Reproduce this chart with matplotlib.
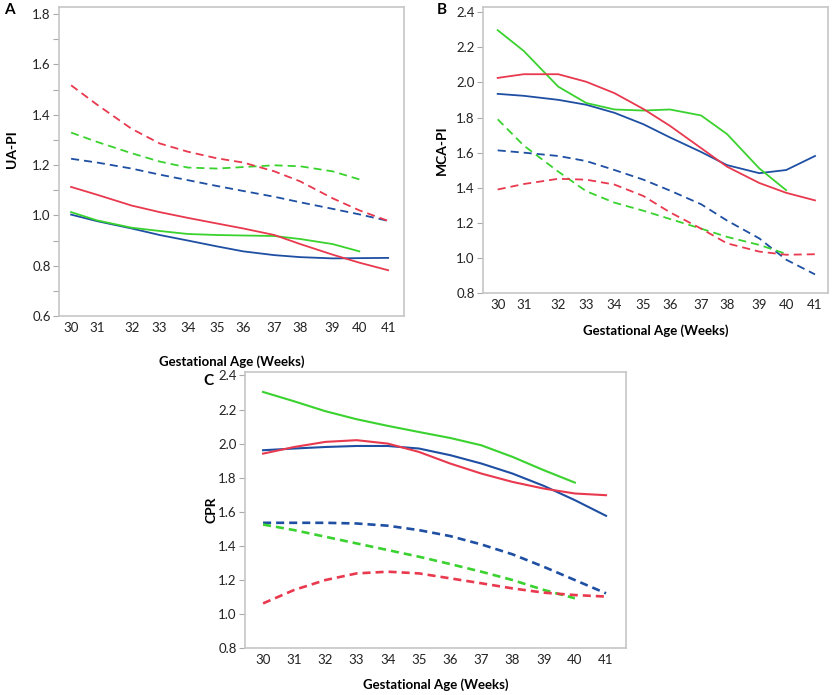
import matplotlib
matplotlib.use("Agg")
import matplotlib.pyplot as plt
from matplotlib.ticker import MultipleLocator

plt.rcParams['font.family'] = ['Lato', 'DejaVu Sans']
plt.rcParams['lines.scale_dashes'] = False

weeks = [30, 31, 32, 33, 34, 35, 36, 37, 38, 39, 40, 41]

# panel A - UA-PI
ua_red_solid = [1.113, 1.082, 1.039, 1.013, 0.99, 0.968, 0.948, 0.922, 0.886, 0.844, 0.812, 0.782]
ua_green_solid = [1.013, 0.98, 0.951, 0.938, 0.926, 0.922, 0.92, 0.918, 0.906, 0.886, 0.857]
ua_blue_solid = [1.003, 0.977, 0.948, 0.922, 0.9, 0.877, 0.857, 0.842, 0.834, 0.829, 0.83, 0.831]
ua_red_dash = [1.517, 1.44, 1.344, 1.286, 1.253, 1.227, 1.21, 1.175, 1.135, 1.068, 1.02, 0.978]
ua_green_dash = [1.329, 1.292, 1.247, 1.214, 1.19, 1.186, 1.192, 1.199, 1.195, 1.175, 1.143]
ua_blue_dash = [1.225, 1.21, 1.186, 1.162, 1.14, 1.117, 1.097, 1.074, 1.052, 1.026, 1.004, 0.978]

# panel B - MCA-PI
mca_red_solid = [2.026, 2.047, 2.047, 2.004, 1.939, 1.849, 1.753, 1.626, 1.52, 1.427, 1.371, 1.328]
mca_green_solid = [2.298, 2.18, 1.976, 1.883, 1.846, 1.84, 1.846, 1.812, 1.706, 1.51, 1.386]
mca_blue_solid = [1.935, 1.924, 1.901, 1.873, 1.827, 1.762, 1.687, 1.604, 1.529, 1.483, 1.501, 1.581]
mca_red_dash = [1.39, 1.421, 1.451, 1.446, 1.418, 1.353, 1.26, 1.167, 1.083, 1.036, 1.018, 1.021]
mca_green_dash = [1.79, 1.641, 1.492, 1.38, 1.315, 1.269, 1.222, 1.167, 1.12, 1.074, 1.023]
mca_blue_dash = [1.613, 1.6, 1.581, 1.552, 1.501, 1.446, 1.384, 1.306, 1.213, 1.111, 0.99, 0.906]

# panel C - CPR
cpr_red_solid = [1.941, 1.98, 2.01, 2.02, 2.0, 1.951, 1.883, 1.824, 1.775, 1.736, 1.707, 1.697]
cpr_green_solid = [2.303, 2.248, 2.19, 2.143, 2.104, 2.068, 2.033, 1.99, 1.922, 1.844, 1.771]
cpr_blue_solid = [1.961, 1.971, 1.98, 1.986, 1.986, 1.971, 1.932, 1.883, 1.824, 1.752, 1.668, 1.576]
cpr_red_dash = [1.062, 1.141, 1.199, 1.238, 1.248, 1.238, 1.209, 1.18, 1.15, 1.125, 1.111, 1.102]
cpr_green_dash = [1.525, 1.492, 1.453, 1.414, 1.375, 1.336, 1.293, 1.248, 1.199, 1.141, 1.092]
cpr_blue_dash = [1.535, 1.535, 1.535, 1.531, 1.518, 1.492, 1.457, 1.408, 1.35, 1.277, 1.199, 1.121]

# week positions on the A/B axes are uneven in the original
pos_ab = [30.0, 30.9, 32.1, 33.07, 34.05, 35.05, 35.97, 37.05, 37.95, 39.07, 40.0, 41.0]

RED = '#E8394E'
GREEN = '#3AD22E'
BLUE = '#1E4FA3'
SPINE = '#c6c6c6'
DASH = (0, (5.8, 3.6))

fig = plt.figure(figsize=(8.33, 6.95), dpi=100)
axA = fig.add_axes([0.0708, 0.5453, 0.4142, 0.4446])
axB = fig.add_axes([0.5798, 0.5784, 0.4142, 0.4115])
axC = fig.add_axes([0.2941, 0.0676, 0.4574, 0.3971])


def style(ax, ylab, xl_y, yl_x, yl_y=0.5):
	for s in ax.spines.values():
		s.set_color(SPINE)
		s.set_linewidth(1.2)
	ax.tick_params(axis='x', length=0, pad=4, labelsize=9.5, colors='#222222')
	ax.tick_params(axis='y', length=4, width=0.8, color='#aaaaaa', labelsize=9.5, labelcolor='#222222', pad=2)
	ax.set_ylabel(ylab, fontsize=10, fontweight='bold', va='center')
	ax.set_xlabel('Gestational Age (Weeks)', fontsize=9.5, fontweight='bold', va='center')
	ax.xaxis.set_label_coords(0.5, xl_y)
	ax.yaxis.set_label_coords(yl_x, yl_y)
	ax.yaxis.set_major_formatter(matplotlib.ticker.FormatStrFormatter('%.1f'))


def draw(ax, x, rs, gs, bs, rd, gd, bd, lw, lwd):
	ax.plot(x, bs, color=BLUE, lw=lw)
	ax.plot(x[:len(gs)], gs, color=GREEN, lw=lw)
	ax.plot(x, rs, color=RED, lw=lw)
	ax.plot(x, bd, color=BLUE, lw=lwd, ls=DASH)
	ax.plot(x[:len(gd)], gd, color=GREEN, lw=lwd, ls=DASH)
	ax.plot(x, rd, color=RED, lw=lwd, ls=DASH)


draw(axA, pos_ab, ua_red_solid, ua_green_solid, ua_blue_solid,
	ua_red_dash, ua_green_dash, ua_blue_dash, 1.3, 1.3)
axA.set_xlim(29.58, 41.55)
axA.set_ylim(0.6, 1.828)
axA.set_xticks(pos_ab)
axA.set_xticklabels([str(w) for w in weeks])
axA.yaxis.set_major_locator(MultipleLocator(0.2))
axA.yaxis.set_minor_locator(MultipleLocator(0.1))
axA.tick_params(axis='y', which='minor', length=4, width=0.8, color='#aaaaaa')
style(axA, 'UA-PI', -0.149, -0.135, 0.54)

draw(axB, pos_ab, mca_red_solid, mca_green_solid, mca_blue_solid,
	mca_red_dash, mca_green_dash, mca_blue_dash, 1.3, 1.3)
axB.set_xlim(29.49, 41.45)
axB.set_ylim(0.8, 2.43)
axB.set_xticks(pos_ab)
axB.set_xticklabels([str(w) for w in weeks])
axB.yaxis.set_major_locator(MultipleLocator(0.2))
style(axB, 'MCA-PI', -0.133, -0.119)

draw(axC, weeks, cpr_red_solid, cpr_green_solid, cpr_blue_solid,
	cpr_red_dash, cpr_green_dash, cpr_blue_dash, 1.5, 1.9)
axC.set_xlim(29.42, 41.64)
axC.set_ylim(0.8, 2.42)
axC.set_xticks(weeks)
axC.yaxis.set_major_locator(MultipleLocator(0.2))
style(axC, 'CPR', -0.087, -0.087)
axC.xaxis.set_label_coords(0.5, -0.134)

fig.text(4 / 833, 1 - 10 / 695, 'A', fontsize=11, fontweight='bold', va='center', ha='left')
fig.text(437 / 833, 1 - 10 / 695, 'B', fontsize=11, fontweight='bold', va='center', ha='left')
fig.text(203 / 833, 1 - 381 / 695, 'C', fontsize=11, fontweight='bold', va='center', ha='left')

fig.savefig('out.png', dpi=100)
